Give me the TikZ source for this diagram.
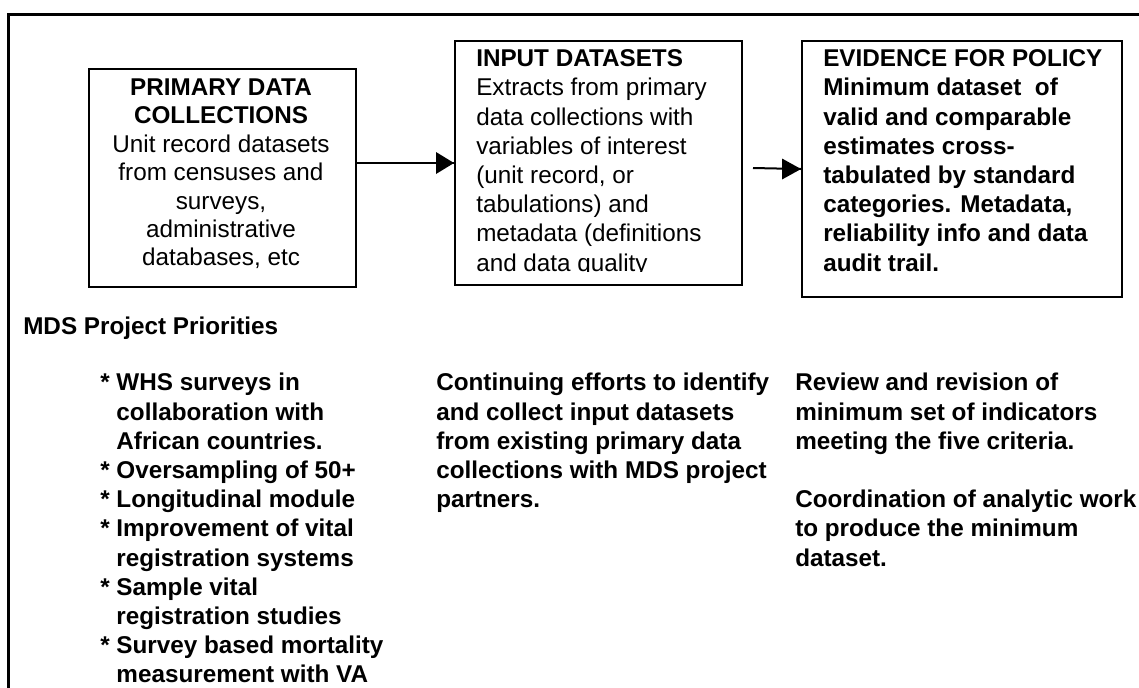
\documentclass[tikz,border=0pt]{standalone}
\usepackage{fontspec}
\setmainfont{Liberation Sans}
\usetikzlibrary{positioning}

\tikzset{
  stage/.style={draw, line width=1.5pt, inner sep=0pt, anchor=north west},
  txt/.style={inner sep=0pt, font=\fontsize{18.2}{21.9}\selectfont},
  boldtxt/.style={inner sep=0pt, font=\fontsize{18.2}{21.9}\selectfont\bfseries},
  link/.style={line width=1.5pt},
}

\begin{document}
\begin{tikzpicture}[x=0.75pt,y=0.75pt,yscale=-1,xscale=1]
%set diagram left start at 0, and has height of 687
\useasboundingbox (0,0) rectangle (1139,687);

%Straight Lines [id:frame] 
\draw [line width=2.25pt]   (8,700) -- (8,14) -- (1150,14) ;

%Shape: Rectangle [id:prim] 
\node (prim) [stage, minimum width=200.25pt, minimum height=163.5pt] at (88,68) {};
%Shape: Rectangle [id:inp] 
\node (inp) [stage, minimum width=215.25pt, minimum height=183pt] at (454,40) {};
%Shape: Rectangle [id:evid] 
\node (evid) [stage, minimum width=240pt, minimum height=192pt] at (801,40) {};

%Straight Lines [id:arrowone] 
\draw [link]   (prim.east |- inp.west) -- (inp.west) ;
\draw [shift={(inp.west)}, rotate = 180] [fill={rgb, 255:red, 0; green, 0; blue, 0 }  ][line width=0.08]  [draw opacity=0] (18,-11) -- (0,0) -- (18,11) -- cycle    ;
%Straight Lines [id:arrowtwo] 
\coordinate (gap) at (753,168);
\draw [link]   (gap) -- (evid.west) ;
\draw [shift={(evid.west)}, rotate = 180] [fill={rgb, 255:red, 0; green, 0; blue, 0 }  ][line width=0.08]  [draw opacity=0] (19,-10.5) -- (0,0) -- (19,10.5) -- cycle    ;

% Text Node
\node (primtxt) [txt, anchor=north, align=center, font=\fontsize{18.2}{21.3}\selectfont] at (221,78.5) {\textbf{PRIMARY DATA}\\\textbf{COLLECTIONS}\\Unit record datasets\\from censuses and\\surveys,\\administrative\\databases, etc};

% Text Node
\begin{scope}
\clip (454,40) rectangle (741,271);
\node (inptxt) [txt, anchor=north west, align=left] at (476,49.5) {\textbf{INPUT DATASETS}\\Extracts from primary\\data collections with\\variables of interest\\(unit record, or\\tabulations) and\\metadata (definitions\\and data quality};
\end{scope}

% Text Node
\node (evidtxt) [boldtxt, anchor=north west, align=left] at (823,49.5) {EVIDENCE FOR POLICY\\Minimum dataset~ of\\valid and comparable\\estimates cross-\\tabulated by standard\\categories. Metadata,\\reliability info and data\\audit trail.};

% Text Node
\node (prio) [boldtxt, anchor=north west] at (23,316.5) {MDS Project Priorities};

% Text Node
\node (priolist) [boldtxt, anchor=north west, align=left] at (100,373) {* WHS surveys in\\\hphantom{*}\ collaboration with\\\hphantom{*}\ African countries.\\* Oversampling of 50+\\* Longitudinal module\\* Improvement of vital\\\hphantom{*}\ registration systems\\* Sample vital\\\hphantom{*}\ registration studies\\* Survey based mortality\\\hphantom{*}\ measurement with VA};

% Text Node
\node (inpnote) [boldtxt, anchor=north west, align=left] at (436,373) {Continuing efforts to identify\\and collect input datasets\\from existing primary data\\collections with MDS project\\partners.};

% Text Node
\node (evidnote) [boldtxt, anchor=north west, align=left] at (795,373) {Review and revision of\\minimum set of indicators\\meeting the five criteria.\\[21.9pt]Coordination of analytic work\\to produce the minimum\\dataset.};

\end{tikzpicture}
\end{document}
